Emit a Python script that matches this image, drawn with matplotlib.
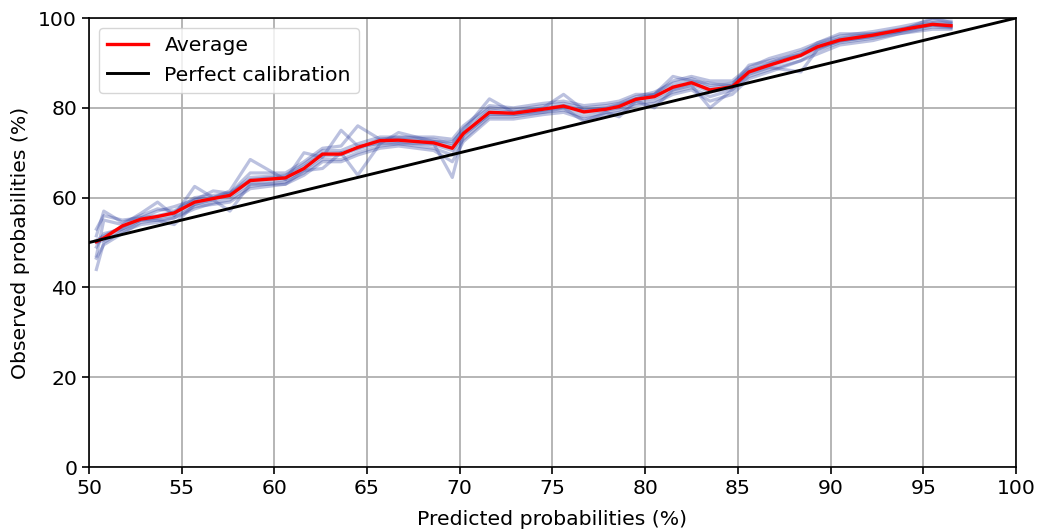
import matplotlib.pyplot as plt

# Predicted probability bins (%) and averaged observed probability (%)
pred = [50.4, 50.8, 51.8, 52.8, 53.7, 54.6, 55.7, 56.7, 57.6, 58.7,
        60.6, 61.6, 62.6, 63.6, 64.5, 65.7, 66.7, 68.6, 69.6, 70.2,
        71.6, 72.9, 74.5, 75.6, 76.7, 77.9, 78.6, 79.5, 80.5, 81.5,
        82.5, 83.5, 84.7, 85.6, 86.7, 88.4, 89.3, 90.5, 92.3, 93.7,
        95.5, 96.5]
average = [50.2, 51.0, 53.7, 55.2, 55.8, 56.6, 59.0, 59.8, 60.5, 63.8,
           64.4, 66.5, 69.7, 69.7, 71.2, 72.7, 72.8, 72.2, 71.0, 74.3,
           79.0, 78.8, 79.7, 80.4, 79.1, 79.7, 80.3, 81.9, 82.5, 84.6,
           85.6, 84.0, 84.7, 88.0, 89.5, 91.7, 93.6, 95.1, 96.2, 97.3,
           98.6, 98.3]

# individual runs (observed %)
run_a = [51.5, 57.0, 54.5, 56.0, 57.5, 57.0, 60.0, 60.5, 61.0, 64.5,
         65.0, 67.5, 70.5, 70.5, 72.0, 73.5, 73.5, 73.0, 72.0, 75.5,
         80.0, 79.5, 80.5, 81.0, 80.0, 80.5, 81.0, 82.5, 83.5, 85.5,
         86.5, 85.0, 85.5, 88.5, 90.0, 92.5, 94.0, 95.5, 96.5, 97.5,
         99.0, 98.8]
run_b = [44.0, 50.0, 52.5, 54.0, 54.5, 55.5, 57.5, 58.8, 59.5, 62.5,
         63.5, 65.5, 68.5, 68.5, 70.0, 71.5, 72.0, 71.0, 69.5, 73.0,
         78.0, 78.0, 79.0, 79.5, 78.0, 79.0, 79.5, 81.0, 81.5, 83.5,
         84.5, 82.5, 84.0, 87.0, 88.5, 90.5, 92.8, 94.5, 95.5, 96.5,
         98.0, 97.8]
run_c = [47.0, 55.0, 54.0, 56.5, 59.0, 56.0, 62.5, 60.0, 61.5, 68.5,
         64.0, 70.0, 69.0, 75.0, 71.5, 72.0, 74.5, 72.5, 72.5, 75.0,
         82.0, 79.0, 80.0, 83.0, 79.5, 80.0, 80.8, 82.0, 83.0, 87.0,
         86.0, 85.5, 85.0, 89.5, 90.5, 92.0, 94.5, 96.5, 96.5, 97.0,
         100.0, 99.0]
run_d = [49.0, 52.0, 53.0, 55.0, 55.0, 54.0, 58.5, 59.5, 57.0, 63.0,
         63.0, 66.0, 66.5, 70.0, 65.0, 72.0, 72.0, 72.0, 64.5, 74.0,
         78.5, 78.5, 79.0, 80.0, 77.0, 79.0, 78.0, 81.5, 80.0, 84.0,
         85.0, 80.0, 84.0, 87.5, 89.0, 88.0, 93.0, 95.0, 95.8, 97.0,
         98.5, 98.0]
run_e = [50.5, 51.5, 53.5, 55.5, 56.0, 56.8, 59.5, 60.0, 60.8, 64.0,
         64.8, 67.0, 69.8, 70.0, 71.0, 73.0, 73.0, 72.5, 71.5, 74.5,
         79.5, 79.0, 79.8, 80.5, 79.5, 79.8, 80.5, 82.0, 82.8, 84.8,
         85.8, 84.5, 85.0, 88.2, 89.8, 91.8, 93.8, 95.3, 96.3, 97.4,
         98.8, 98.5]
run_f = [50.0, 50.5, 53.0, 55.0, 55.5, 56.2, 58.5, 59.5, 60.2, 63.2,
         64.0, 66.2, 69.2, 69.5, 70.8, 72.3, 72.5, 71.8, 70.5, 73.8,
         78.6, 78.5, 79.5, 80.2, 78.8, 79.5, 80.0, 81.6, 82.2, 84.2,
         85.3, 83.5, 84.5, 87.8, 89.2, 91.5, 93.4, 94.8, 96.0, 97.1,
         98.4, 98.1]
run_g = [53.0, 56.0, 55.0, 55.5, 57.0, 58.0, 59.5, 61.5, 61.0, 65.5,
         65.5, 68.0, 71.0, 71.5, 76.0, 73.0, 73.5, 73.5, 73.0, 76.0,
         80.5, 80.0, 81.0, 81.5, 80.5, 81.0, 81.5, 83.0, 83.0, 86.0,
         87.0, 86.0, 86.0, 89.0, 91.0, 93.0, 94.5, 96.0, 97.0, 98.0,
         99.5, 99.3]
run_h = [46.5, 49.5, 52.0, 54.5, 55.0, 55.5, 58.0, 58.5, 59.0, 62.0,
         63.0, 65.0, 68.0, 68.0, 69.5, 71.0, 71.5, 70.5, 68.0, 72.5,
         77.5, 77.5, 78.5, 79.0, 77.5, 78.5, 79.0, 80.5, 81.0, 83.0,
         84.0, 81.5, 83.0, 86.5, 88.0, 90.5, 92.0, 94.0, 95.0, 96.5,
         97.5, 97.5]
runs = [run_a, run_b, run_c, run_d, run_e, run_f, run_g, run_h]

fig = plt.figure(figsize=(10.38, 5.31), dpi=100)
ax = fig.add_axes([0.0857, 0.1205, 0.893, 0.8455])

for r in runs:
    ax.plot(pred, r, color='#3344a0', alpha=0.33, linewidth=2.3)

ax.plot(pred, average, color='red', linewidth=2.4, label='Average', zorder=5)
ax.plot([50, 100], [50, 100], color='black', linewidth=2.1, label='Perfect calibration', zorder=6)

ax.set_xlim(50, 100)
ax.set_ylim(0, 100)
ax.set_xticks(range(50, 101, 5))
ax.set_yticks(range(0, 101, 20))
ax.tick_params(labelsize=14.7, width=1.2, length=5)
for s in ax.spines.values():
    s.set_linewidth(1.2)
ax.set_xlabel('Predicted probabilities (%)', fontsize=14.7, labelpad=9)
ax.set_ylabel('Observed probabilities (%)', fontsize=14.7, labelpad=6)
ax.grid(True, color='#b0b0b0', linewidth=1.3)
ax.legend(loc='upper left', fontsize=14.7)

fig.savefig('out.png')
